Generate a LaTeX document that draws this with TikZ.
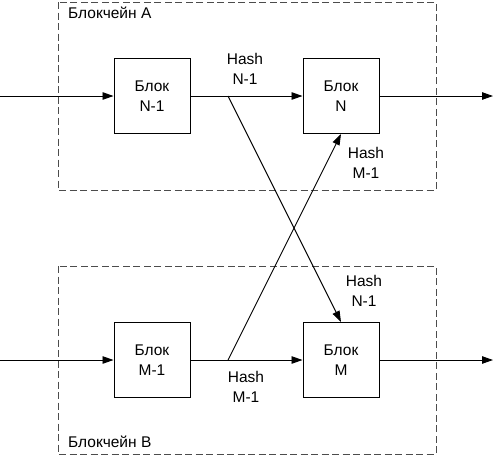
\documentclass[tikz,border=0pt]{standalone}
\usepackage{fontspec}
\setmainfont{Liberation Sans}
\usetikzlibrary{arrows.meta}

\begin{document}
\begin{tikzpicture}[x=1pt,y=-1pt,
		font=\fontsize{15.5}{19.5}\selectfont,
		block/.style={draw,thick,line width=1pt,minimum width=76pt,minimum height=75pt,align=center,inner sep=0pt},
		chainbox/.style={draw=black!70,line width=1pt,dash pattern=on 7pt off 3.5pt},
		hashlbl/.style={align=center,inner sep=0pt},
		link/.style={line width=0.9pt,-{Triangle[length=11pt,width=7.5pt]}}]
	
	\useasboundingbox (0,0) rectangle (493,456);
	
	% blockchain frames
	\draw[chainbox] (58,2) rectangle (436,190);
	\draw[chainbox] (58,266) rectangle (436,454);
	\node[anchor=base west,inner sep=0pt] (titleA) at (68,18) {Блокчейн A};
	\node[anchor=base west,inner sep=0pt] (titleB) at (68,447) {Блокчейн B};
	
	% blocks
	\node[block] (bn1) at (152,96) {Блок\\N-1};
	\node[block] (bn) at (341,96) {Блок\\N};
	\node[block] (bm1) at (152,360) {Блок\\M-1};
	\node[block] (bm) at (341,360) {Блок\\M};
	
	% free ends
	\coordinate (inA) at (0,96);
	\coordinate (outA) at (493,96);
	\coordinate (inB) at (0,360);
	\coordinate (outB) at (493,360);
	\coordinate (splitA) at (228,96);
	\coordinate (splitB) at (228,360);
	
	% chain A
	\draw[link] (inA) -- (bn1);
	\draw[link] (bn1) -- (bn);
	\draw[link] (bn) -- (outA);
	
	% chain B
	\draw[link] (inB) -- (bm1);
	\draw[link] (bm1) -- (bm);
	\draw[link] (bm) -- (outB);
	
	% cross links
	\draw[link] (splitA) -- (bm.north);
	\draw[link] (splitB) -- (bn.south);
	
	% hash labels
	\node[hashlbl] (hN1a) at (245,69) {Hash\\N-1};
	\node[hashlbl] (hM1a) at (366,163) {Hash\\M-1};
	\node[hashlbl] (hN1b) at (364,291) {Hash\\N-1};
	\node[hashlbl] (hM1b) at (246,387) {Hash\\M-1};
	
\end{tikzpicture}
\end{document}
